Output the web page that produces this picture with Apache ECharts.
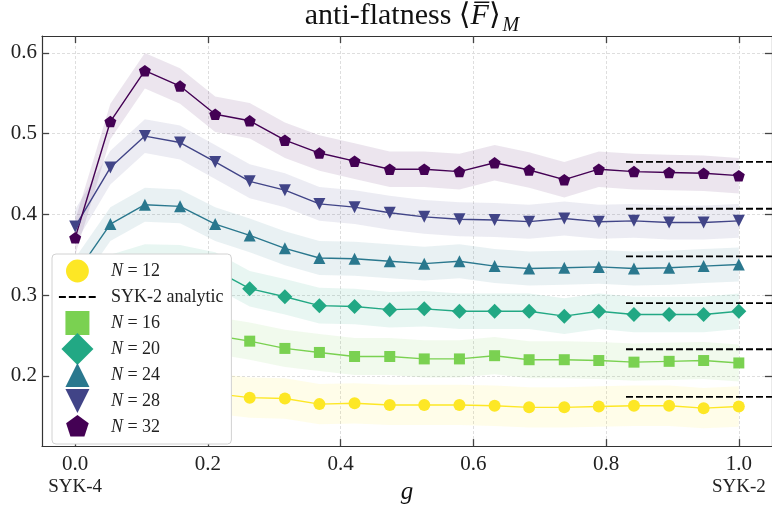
<!DOCTYPE html>
<html>
<head>
<meta charset="utf-8">
<script src="https://cdn.jsdelivr.net/npm/echarts@6/dist/echarts.min.js"></script>
<style>
  html, body { margin: 0; padding: 0; background: #fff; }
  #chart { width: 772px; height: 510px; }
</style>
</head>
<body>
<div id="chart"></div>
<script>
// coupling g between SYK-4 (0) and SYK-2 (1)
var gVals = [0, 0.053, 0.105, 0.158, 0.211, 0.263, 0.316, 0.368, 0.421, 0.474,
             0.526, 0.579, 0.632, 0.684, 0.737, 0.789, 0.842, 0.895, 0.947, 1.0];

var n12 = [0.170, 0.178, 0.183, 0.182, 0.178, 0.173, 0.172, 0.165, 0.166, 0.164,
           0.164, 0.164, 0.163, 0.161, 0.161, 0.162, 0.163, 0.163, 0.160, 0.162];
var n16 = [0.245, 0.252, 0.258, 0.256, 0.250, 0.243, 0.234, 0.229, 0.224, 0.224,
           0.221, 0.221, 0.225, 0.220, 0.220, 0.219, 0.217, 0.218, 0.219, 0.216];
var n20 = [0.310, 0.328, 0.341, 0.340, 0.331, 0.308, 0.298, 0.287, 0.286, 0.282,
           0.283, 0.280, 0.280, 0.280, 0.274, 0.280, 0.276, 0.276, 0.276, 0.280];
var n24 = [0.325, 0.388, 0.412, 0.410, 0.388, 0.374, 0.358, 0.346, 0.345, 0.342,
           0.339, 0.342, 0.336, 0.333, 0.334, 0.335, 0.333, 0.334, 0.336, 0.338];
var n28 = [0.385, 0.458, 0.497, 0.489, 0.465, 0.441, 0.430, 0.413, 0.409, 0.402,
           0.397, 0.394, 0.393, 0.391, 0.395, 0.391, 0.392, 0.390, 0.390, 0.392];
var n32 = [0.371, 0.515, 0.578, 0.559, 0.524, 0.516, 0.492, 0.476, 0.466, 0.456,
           0.456, 0.453, 0.464, 0.455, 0.443, 0.456, 0.453, 0.452, 0.451, 0.448];

// half width of the shaded spread, one per N
var spread = [0.025, 0.023, 0.022, 0.021, 0.021, 0.022];
// SYK-2 analytic values, one per N
var analytic = [0.174, 0.233, 0.290, 0.348, 0.407, 0.465];
var analyticFrom = 0.83, analyticTo = 1.05;

var sizesN = [12, 16, 20, 24, 28, 32];
var xTicks = [0, 0.2, 0.4, 0.6, 0.8, 1.0];
var yTicks = [0.2, 0.3, 0.4, 0.5, 0.6];

var allData = [n12, n16, n20, n24, n28, n32];
var colors = ['#fde725', '#7ad151', '#22a884', '#2a788e', '#414487', '#440154'];

var pentagon = 'path://M0,-1L0.951,-0.309L0.588,0.809L-0.588,0.809L-0.951,-0.309Z';
var downTri = 'path://M-1,-1L1,-1L0,1Z';
var plotSymbols = [
  ['circle', 12], ['rect', 11], ['diamond', 15],
  ['triangle', [12, 12]], [downTri, [12, 12]], [pentagon, [12, 11.5]]
];

// legend icons share one frame so relative sizes stay like the original
var frame = 'M-1.7,-1.4M1.7,1.4';
var legendIcons = {
  circle: 'path://' + frame + 'M-1,0A1,1,0,1,1,1,0A1,1,0,1,1,-1,0Z',
  rect: 'path://' + frame + 'M-1.05,-1.05L1.05,-1.05L1.05,1.05L-1.05,1.05Z',
  diamond: 'path://' + frame + 'M0,-1.4L1.4,0L0,1.4L-1.4,0Z',
  up: 'path://' + frame + 'M0,-1.05L1.05,1.05L-1.05,1.05Z',
  down: 'path://' + frame + 'M-1.05,-1.05L1.05,-1.05L0,1.05Z',
  pent: 'path://' + frame + 'M0,-1.04L0.989,-0.321L0.612,0.841L-0.612,0.841L-0.989,-0.321Z',
  dash: 'path://' + frame + 'M-1.62,-0.09h0.61v0.18h-0.61z M-0.75,-0.09h0.61v0.18h-0.61z M0.12,-0.09h0.61v0.18h-0.61z M0.99,-0.09h0.61v0.18h-0.61z'
};
var iconOrder = ['circle', 'rect', 'diamond', 'up', 'down', 'pent'];

var serif = '"Liberation Serif", "DejaVu Serif", serif';

var series = [];
// shaded spread as one polygon per N
allData.forEach(function (vals, k) {
  var e = spread[k];
  var fill = echarts.color.modifyAlpha(colors[k], 0.1);
  series.push({
    type: 'custom', silent: true, z: 1,
    data: gVals.map(function (g, i) { return [g, vals[i] - e, vals[i] + e]; }),
    encode: { x: 0, y: [1, 2] },
    renderItem: function (params, api) {
      if (params.dataIndex !== 0) return null;
      var pts = [];
      for (var i = 0; i < gVals.length; i++) pts.push(api.coord([gVals[i], vals[i] + e]));
      for (var j = gVals.length - 1; j >= 0; j--) pts.push(api.coord([gVals[j], vals[j] - e]));
      return { type: 'polygon', shape: { points: pts }, style: { fill: fill } };
    }
  });
});
allData.forEach(function (vals, k) {
  series.push({
    name: 'N = ' + sizesN[k], type: 'line', z: 2,
    color: colors[k],
    symbol: plotSymbols[k][0], symbolSize: plotSymbols[k][1],
    lineStyle: { width: 1.4, color: colors[k] },
    itemStyle: { color: colors[k], borderWidth: 0 },
    emphasis: { disabled: true },
    data: gVals.map(function (g, i) { return [g, vals[i]]; })
  });
});
var dashData = [];
analytic.forEach(function (v) {
  dashData.push([analyticFrom, v], [analyticTo, v], [analyticTo, '-']);
});
series.push({
  name: 'SYK-2 analytic', type: 'line', z: 3, color: '#000',
  symbol: 'none', connectNulls: false,
  lineStyle: { color: '#000', width: 1.8, type: [7, 3] },
  itemStyle: { color: '#000' },
  data: dashData
});

var legendData = [{ name: 'N = 12', icon: legendIcons.circle },
                  { name: 'SYK-2 analytic', icon: legendIcons.dash }];
for (var k = 1; k < 6; k++) {
  legendData.push({ name: 'N = ' + sizesN[k], icon: legendIcons[iconOrder[k]] });
}

function tickAxis(extra) {
  var a = {
    type: 'value',
    axisLine: { show: true, onZero: false, lineStyle: { color: '#333', width: 1.2 } }
  };
  for (var key in extra) a[key] = extra[key];
  return a;
}
function ticks(vals) {
  return { show: true, inside: true, length: 7, customValues: vals, lineStyle: { color: '#444', width: 1.3 } };
}

var chart = echarts.init(document.getElementById('chart'));
chart.setOption({
  animation: false,
  backgroundColor: '#fff',
  title: {
    left: 407, top: -4, textAlign: 'center',
    text: '{t|anti-flatness \u27E8}{f|F\u0305}{t|\u27E9}{m|M}',
    textStyle: {
      fontWeight: 'normal',
      rich: {
        t: { fontFamily: serif, fontSize: 30, fontWeight: 'normal', color: '#111', lineHeight: 32, verticalAlign: 'top' },
        f: { fontFamily: serif, fontSize: 30, fontWeight: 'normal', fontStyle: 'italic', color: '#111', lineHeight: 32, verticalAlign: 'top' },
        m: { fontFamily: serif, fontSize: 20, fontWeight: 'normal', fontStyle: 'italic', color: '#111', lineHeight: 22, verticalAlign: 'top', padding: [15, 0, 0, 2] }
      }
    }
  },
  grid: { left: 42, right: -1, top: 36, bottom: 58, containLabel: false },
  legend: {
    orient: 'vertical', left: 52, top: 254, z: 20,
    data: legendData,
    itemWidth: 39, itemHeight: 32, itemGap: -6,
    padding: [1, 8, 1, 6],
    backgroundColor: '#fff',
    borderColor: '#d2d2d2', borderWidth: 1, borderRadius: 4,
    selectedMode: false,
    formatter: function (name) { return '{g| }' + name.replace('N', '{i|N}'); },
    textStyle: {
      fontFamily: serif, fontSize: 18, color: '#222',
      rich: {
        g: { width: 9, fontSize: 18 },
        i: { fontFamily: serif, fontSize: 18, fontStyle: 'italic', color: '#222' }
      }
    }
  },
  xAxis: [
    tickAxis({
      min: -0.05, max: 1.05, position: 'bottom',
      name: 'g', nameLocation: 'middle', nameGap: 27,
      nameTextStyle: { fontFamily: serif, fontSize: 25, fontStyle: 'italic', color: '#111' },
      axisTick: ticks(xTicks),
      axisLabel: {
        customValues: xTicks, margin: 8,
        fontFamily: serif, fontSize: 21, color: '#222',
        formatter: function (v) { return v.toFixed(1); }
      },
      splitLine: { show: true, lineStyle: { color: '#dedede', width: 1, type: [3, 2] } }
    }),
    tickAxis({
      min: -0.05, max: 1.05, position: 'top',
      axisTick: ticks(xTicks),
      axisLabel: { show: false, customValues: xTicks },
      splitLine: { show: false }
    })
  ],
  yAxis: [
    tickAxis({
      min: 0.113, max: 0.621, position: 'left',
      axisTick: ticks(yTicks),
      axisLabel: {
        customValues: yTicks, margin: 5,
        fontFamily: serif, fontSize: 21, color: '#222',
        formatter: function (v) { return v.toFixed(1); }
      },
      splitLine: { show: true, lineStyle: { color: '#dedede', width: 1, type: [3, 2] } }
    }),
    tickAxis({
      min: 0.113, max: 0.621, position: 'right',
      axisTick: ticks(yTicks),
      axisLabel: { show: false, customValues: yTicks },
      splitLine: { show: false }
    })
  ],
  series: series
});

// end labels under the 0.0 and 1.0 ticks
var p0 = chart.convertToPixel({ xAxisIndex: 0, yAxisIndex: 0 }, [0, 0.113]);
var p1 = chart.convertToPixel({ xAxisIndex: 0, yAxisIndex: 0 }, [1, 0.113]);
chart.setOption({
  graphic: [
    { type: 'text', x: p0[0], y: p0[1] + 41, style: { text: 'SYK-4', fontFamily: serif, fontSize: 19, fill: '#222', align: 'center', verticalAlign: 'middle' } },
    { type: 'text', x: p1[0], y: p1[1] + 41, style: { text: 'SYK-2', fontFamily: serif, fontSize: 19, fill: '#222', align: 'center', verticalAlign: 'middle' } }
  ]
});
</script>
</body>
</html>
